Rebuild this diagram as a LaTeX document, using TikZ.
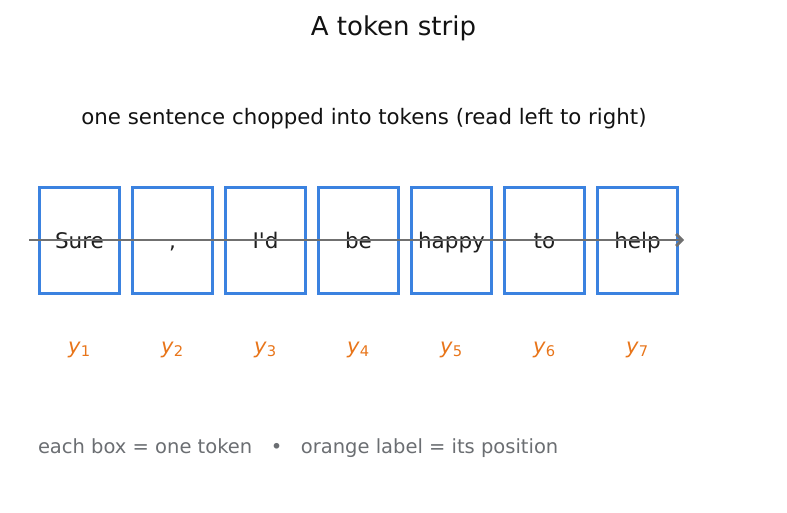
\documentclass[tikz,border=0pt]{standalone}
\usepackage{fontspec}
\setmainfont{DejaVu Sans}
\newfontfamily\plainfont{DejaVu Sans}
\usetikzlibrary{arrows.meta}
\definecolor{tokblue}{HTML}{3B82E0}
\definecolor{posorange}{HTML}{E8751A}
\definecolor{stripgray}{HTML}{707070}
\definecolor{notegray}{HTML}{6B6E72}
\newcommand{\poslabel}[1]{\textit{y}\textsubscript{#1}}
\begin{document}
\begin{tikzpicture}[x=1pt,y=-1pt,inner sep=0pt,outer sep=0pt,
tokbox/.style={draw=tokblue,rectangle,line width=3pt,minimum width=80.5pt,minimum height=106.5pt},
tokword/.style={anchor=base,font=\plainfont\fontsize{21.5}{26}\selectfont,text=black!88},
poslab/.style={font=\fontsize{21}{25}\selectfont,text=posorange}]
\useasboundingbox (0,0) rectangle (787,512);
\node[font=\fontsize{26}{31}\selectfont,text=black!93] (title) at (393.5,28) {A token strip};
\node[font=\fontsize{21.3}{26}\selectfont,text=black!93] (sub) at (364,119) {one sentence chopped into tokens (read left to right)};
% the boxes
\node[tokbox] (B1) at (79.5,240.5) {};
\node[tokbox] (B2) at (172.5,240.5) {};
\node[tokbox] (B3) at (265.5,240.5) {};
\node[tokbox] (B4) at (358.5,240.5) {};
\node[tokbox] (B5) at (451.5,240.5) {};
\node[tokbox] (B6) at (544.5,240.5) {};
\node[tokbox] (B7) at (637.5,240.5) {};
\node[tokword] (T1) at (79.5,248) {Sure};
\node[tokword] (T2) at (172.5,248) {,};
\node[tokword] (T3) at (265.5,248) {I'd};
\node[tokword] (T4) at (358.5,248) {be};
\node[tokword] (T5) at (451.5,248) {happy};
\node[tokword] (T6) at (544.5,248) {to};
\node[tokword] (T7) at (637.5,248) {help};
% reading direction
\coordinate (start) at (29,240);
\coordinate (stop) at (684,240);
\draw[stripgray,line width=2.8pt,-{Straight Barb[length=6pt,width=12pt]}] (start) -- (stop);
% positions
\node[poslab] (Y1) at (79.5,349.5) {\poslabel{1}};
\node[poslab] (Y2) at (172.5,349.5) {\poslabel{2}};
\node[poslab] (Y3) at (265.5,349.5) {\poslabel{3}};
\node[poslab] (Y4) at (358.5,349.5) {\poslabel{4}};
\node[poslab] (Y5) at (451.5,349.5) {\poslabel{5}};
\node[poslab] (Y6) at (544.5,349.5) {\poslabel{6}};
\node[poslab] (Y7) at (637.5,349.5) {\poslabel{7}};
\node[anchor=west,font=\fontsize{19.5}{23}\selectfont,text=notegray] (note) at (38,448) {each box = one token \ \ • \ \ orange label = its position};
\end{tikzpicture}
\end{document}
